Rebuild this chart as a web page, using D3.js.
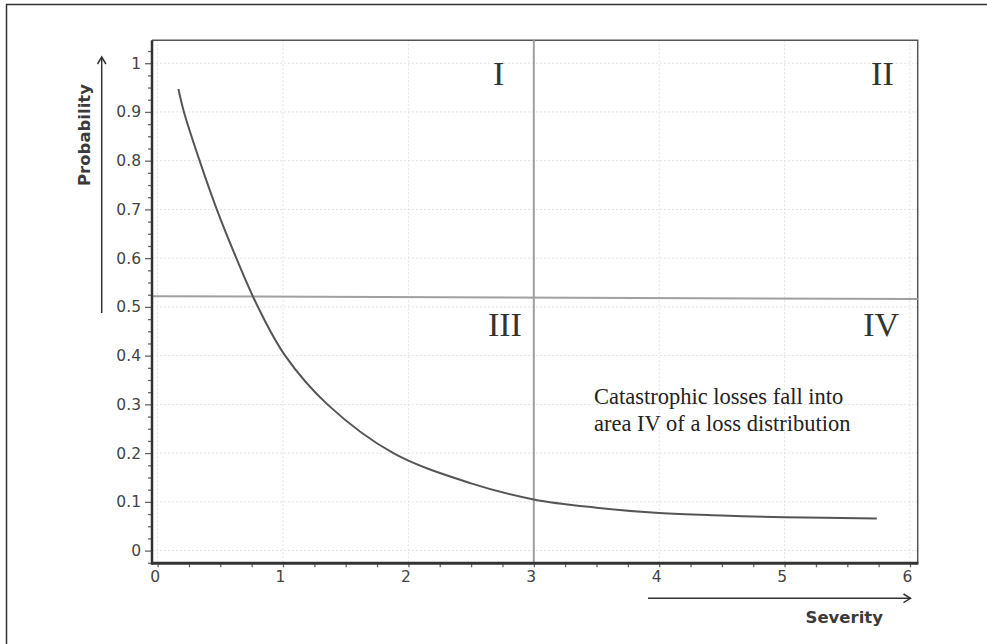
<!DOCTYPE html>
<html>
<head>
<meta charset="utf-8">
<script src="https://cdn.jsdelivr.net/npm/d3@7"></script>
<style>
  html, body { margin: 0; padding: 0; background: #fff; }
  svg { display: block; }
</style>
</head>
<body>
<svg id="chart" width="987" height="644"></svg>
<script>
// ---- data ----
const xTicks = [0, 1, 2, 3, 4, 5, 6];
const xTickLabels = ["0", "1", "2", "3", "4", "5", "6"];
const yTicks = [0, 0.1, 0.2, 0.3, 0.4, 0.5, 0.6, 0.7, 0.8, 0.9, 1];
const yTickLabels = ["0", "0.1", "0.2", "0.3", "0.4", "0.5", "0.6", "0.7", "0.8", "0.9", "1"];
const xMinorTicks = [0.25, 0.5, 0.75, 1.25, 1.5, 1.75, 2.25, 2.5, 2.75, 3.25, 3.5, 3.75, 4.25, 4.5, 4.75, 5.25, 5.5, 5.75];
const yMinorTicks = [-0.025, 0.025, 0.05, 0.075, 0.125, 0.15, 0.175, 0.225, 0.25, 0.275, 0.325, 0.35, 0.375,
  0.425, 0.45, 0.475, 0.525, 0.55, 0.575, 0.625, 0.65, 0.675, 0.725, 0.75, 0.775, 0.825, 0.85, 0.875,
  0.925, 0.95, 0.975, 1.025];
// loss curve (severity, probability)
const curveX = [0.166, 0.21, 0.335, 0.472, 0.628, 0.80, 1.017, 1.354, 1.88, 2.5, 3.0, 3.5, 4.0, 4.5, 5.0, 5.735];
const curveY = [0.947, 0.900, 0.800, 0.700, 0.600, 0.500, 0.400, 0.300, 0.200, 0.138, 0.105, 0.088, 0.077, 0.072, 0.0685, 0.066];
// quadrant dividers
const dividerSeverity = 3;
const dividerProbStart = 0.522;
const dividerProbEnd = 0.516;
const quadrantLabels = ["I", "II", "III", "IV"];
const quadrantPos = [[2.72, 0.955], [5.78, 0.955], [2.77, 0.44], [5.77, 0.44]];
const noteLines = ["Catastrophic losses fall into", "area IV of a loss distribution"];
const notePos = [3.48, 0.3];
const xTitle = "Severity";
const yTitle = "Probability";

// ---- layout ----
const svg = d3.select("#chart");
const plotLeft = 152, plotRight = 917.7, plotTop = 40.3, plotBottom = 563.3;
const x = d3.scaleLinear().domain([0, 6]).range([157.6, 910]);
const y = d3.scaleLinear().domain([0, 1]).range([550.6, 63.2]);
const xLo = x.invert(plotLeft), xHi = x.invert(plotRight);

// outer frame
svg.append("rect").attr("x", 6.5).attr("y", 4.5).attr("width", 1000).attr("height", 700)
  .attr("fill", "none").attr("stroke", "#333").attr("stroke-width", 1.5);

// grid
const grid = svg.append("g").attr("stroke", "#e2e2e2").attr("stroke-width", 1).attr("stroke-dasharray", "2,2");
grid.selectAll("line.v").data(xTicks).join("line")
  .attr("x1", d => x(d)).attr("x2", d => x(d)).attr("y1", plotTop).attr("y2", plotBottom);
grid.selectAll("line.h").data(yTicks).join("line")
  .attr("x1", plotLeft).attr("x2", plotRight).attr("y1", d => y(d)).attr("y2", d => y(d));

// top & right frame
svg.append("path")
  .attr("d", `M${plotLeft},${plotTop}H${plotRight}V${plotBottom}`)
  .attr("fill", "none").attr("stroke", "#555").attr("stroke-width", 1.5);

// quadrant lines
svg.append("line")
  .attr("x1", x(xLo)).attr("x2", x(xHi))
  .attr("y1", y(dividerProbStart)).attr("y2", y(dividerProbEnd))
  .attr("stroke", "#a0a0a0").attr("stroke-width", 2);
svg.append("line")
  .attr("x1", x(dividerSeverity)).attr("x2", x(dividerSeverity))
  .attr("y1", plotTop).attr("y2", plotBottom)
  .attr("stroke", "#a0a0a0").attr("stroke-width", 2);

// curve
const pts = curveX.map((v, i) => [v, curveY[i]]);
svg.append("path")
  .datum(pts)
  .attr("d", d3.line().x(d => x(d[0])).y(d => y(d[1])).curve(d3.curveCatmullRom.alpha(0.5)))
  .attr("fill", "none").attr("stroke", "#555").attr("stroke-width", 2);

// axes
const tickFont = "'DejaVu Sans', Verdana, sans-serif";
const yAxis = svg.append("g").attr("transform", `translate(${plotLeft},0)`)
  .call(d3.axisLeft(y).tickValues(yTicks).tickSize(7).tickPadding(4)
    .tickFormat((d, i) => yTickLabels[i]));
const yMinor = svg.append("g").attr("transform", `translate(${plotLeft},0)`)
  .call(d3.axisLeft(y).tickValues(yMinorTicks).tickSize(4).tickFormat(""));
const xAxis = svg.append("g").attr("transform", `translate(0,${plotBottom})`)
  .call(d3.axisBottom(x).tickValues(xTicks).tickSize(4).tickPadding(4)
    .tickFormat((d, i) => xTickLabels[i]));
const xMinor = svg.append("g").attr("transform", `translate(0,${plotBottom})`)
  .call(d3.axisBottom(x).tickValues(xMinorTicks).tickSize(4).tickFormat(""));
[yAxis, yMinor, xAxis, xMinor].forEach(g => {
  g.select(".domain").remove();
  g.selectAll(".tick line").attr("stroke", "#666").attr("stroke-width", 1.3);
  g.selectAll("text").attr("fill", "#444").style("font-family", tickFont).style("font-size", "15.5px");
});
xAxis.selectAll("text").attr("y", 8).attr("dx", -3);

// thick axis lines
svg.append("line").attr("x1", plotLeft).attr("x2", plotLeft).attr("y1", plotTop).attr("y2", plotBottom + 1.5)
  .attr("stroke", "#333").attr("stroke-width", 2.5);
svg.append("line").attr("x1", plotLeft).attr("x2", plotRight + 0.75).attr("y1", plotBottom).attr("y2", plotBottom)
  .attr("stroke", "#333").attr("stroke-width", 3);

// quadrant labels
svg.selectAll("text.quad").data(quadrantLabels).join("text")
  .attr("class", "quad")
  .attr("x", (d, i) => x(quadrantPos[i][0])).attr("y", (d, i) => y(quadrantPos[i][1]))
  .attr("text-anchor", "middle")
  .style("font-family", "'Liberation Serif', 'Times New Roman', serif")
  .style("font-size", "34px").attr("fill", "#333").text(d => d);

// note
svg.append("text")
  .attr("x", x(notePos[0])).attr("y", y(notePos[1]))
  .style("font-family", "'Liberation Serif', 'Times New Roman', serif")
  .style("font-size", "22.5px").attr("fill", "#222")
  .selectAll("tspan").data(noteLines).join("tspan")
  .attr("x", x(notePos[0])).attr("dy", (d, i) => i === 0 ? 0 : 26.7).text(d => d);

// axis titles with arrows
const titleFont = "'DejaVu Sans', Verdana, sans-serif";
svg.append("text")
  .attr("transform", "translate(89.5,135) rotate(-90)")
  .attr("text-anchor", "middle")
  .style("font-family", titleFont).style("font-weight", "bold").style("font-size", "16.5px")
  .attr("fill", "#3a3a3a").text(yTitle);
svg.append("text")
  .attr("x", 883).attr("y", 623).attr("text-anchor", "end")
  .style("font-family", titleFont).style("font-weight", "bold").style("font-size", "16.5px")
  .attr("fill", "#3a3a3a").text(xTitle);

const arrowColor = "#333";
// vertical arrow
svg.append("line").attr("x1", 101.7).attr("x2", 101.7).attr("y1", 57).attr("y2", 313)
  .attr("stroke", arrowColor).attr("stroke-width", 1.5);
svg.append("path").attr("d", "M97.5,64 L101.7,57 L105.9,64")
  .attr("fill", "none").attr("stroke", arrowColor).attr("stroke-width", 1.5);
// horizontal arrow
svg.append("line").attr("x1", 648).attr("x2", 910.5).attr("y1", 598.3).attr("y2", 598.3)
  .attr("stroke", arrowColor).attr("stroke-width", 1.5);
svg.append("path").attr("d", "M903.5,594 L910.5,598.3 L903.5,602.6")
  .attr("fill", "none").attr("stroke", arrowColor).attr("stroke-width", 1.5);
</script>
</body>
</html>
